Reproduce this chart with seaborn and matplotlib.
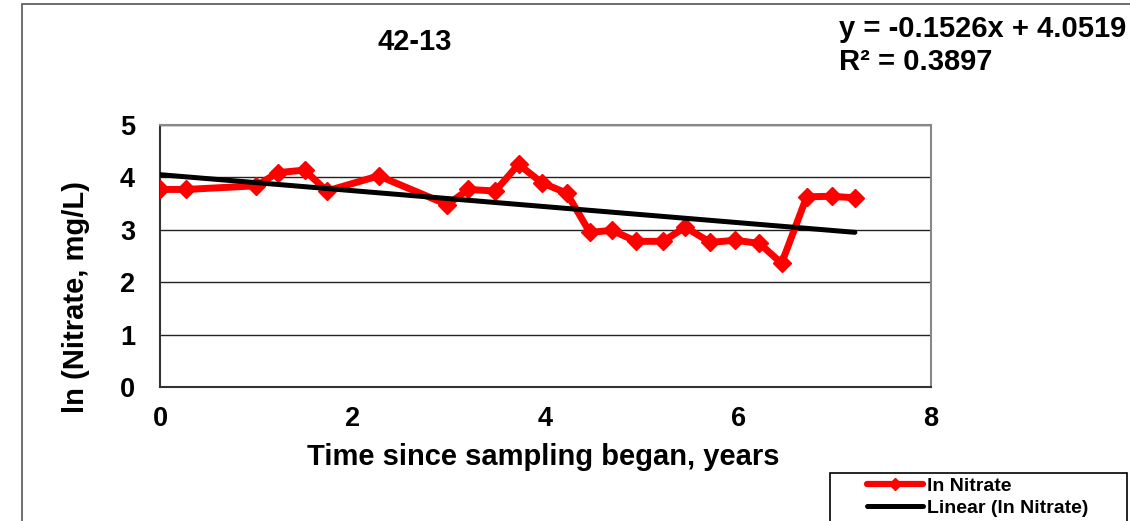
import matplotlib
matplotlib.use("Agg")
import matplotlib.pyplot as plt
import seaborn as sns
import pandas as pd
from matplotlib.patches import Rectangle
from matplotlib.lines import Line2D

# ---- data ----
time_years = [0, 0.27, 1.0, 1.22, 1.5, 1.73, 2.27, 2.98, 3.2, 3.48, 3.72, 3.96,
              4.22, 4.46, 4.69, 4.94, 5.22, 5.45, 5.71, 5.97, 6.22, 6.45, 6.71, 6.97, 7.21]
ln_nitrate = [3.77, 3.77, 3.84, 4.09, 4.14, 3.74, 4.03, 3.48, 3.77, 3.74, 4.25, 3.90,
              3.70, 2.95, 2.99, 2.78, 2.78, 3.05, 2.76, 2.80, 2.74, 2.36, 3.63, 3.64, 3.61]
slope = -0.1526
intercept = 4.0519
r_squared = 0.3897
title = "42-13"
x_ticks = [0, 2, 4, 6, 8]
y_ticks = [0, 1, 2, 3, 4, 5]
series_labels = ["ln Nitrate", "Linear (ln Nitrate)"]

df = pd.DataFrame({"t": time_years, "v": ln_nitrate})
trend_x = [min(time_years), max(time_years)]
trend_df = pd.DataFrame({"t": trend_x, "v": [slope * x + intercept for x in trend_x]})

sns.set_style("white")
plt.rcParams["font.family"] = ["Liberation Sans", "DejaVu Sans"]
plt.rcParams["font.weight"] = "bold"
for k in ["text.color", "axes.labelcolor", "xtick.labelcolor", "ytick.labelcolor"]:
    plt.rcParams[k] = "black"

W, H = 1130, 521
fig = plt.figure(figsize=(W / 100, H / 100), dpi=100)
ax = fig.add_axes([160 / W, 1 - 387 / H, (931 - 160) / W, (387 - 125) / H])

# outer chart border
fig.patches.append(Rectangle((22 / W, -0.05), 1.2, 1 - 4 / H + 0.05,
                             transform=fig.transFigure, fill=False,
                             edgecolor="#555555", linewidth=1.2))

sns.lineplot(data=df, x="t", y="v", ax=ax, color="#ff0000", linewidth=5,
             marker="D", markersize=9, markeredgecolor="#ff0000",
             markeredgewidth=1, zorder=3)
sns.lineplot(data=trend_df, x="t", y="v", ax=ax, color="black", linewidth=3.6,
             zorder=4, solid_capstyle="round")

ax.set_xlim(0, 8)
ax.set_ylim(0, 5)
ax.set_xticks(x_ticks)
ax.set_yticks(y_ticks)
ax.yaxis.grid(True, color="#222222", linewidth=1.0)
ax.set_axisbelow(True)
for side in ["top", "right"]:
    ax.spines[side].set_color("#888888")
    ax.spines[side].set_linewidth(1.5)
for side in ["left", "bottom"]:
    ax.spines[side].set_color("#333333")
    ax.spines[side].set_linewidth(1.5)
ax.tick_params(axis="both", which="both", direction="out", length=8,
               width=1, color="#444444", labelsize=19.5, pad=6)
ax.tick_params(axis="y", pad=10)
for lbl in ax.get_xticklabels() + ax.get_yticklabels():
    lbl.set_fontweight("bold")

ax.set_xlabel("Time since sampling began, years", fontsize=21, fontweight="bold")
ax.set_ylabel("ln (Nitrate, mg/L)", fontsize=21, fontweight="bold")
ax.xaxis.set_label_coords((543 - 160) / 771, (387 - 443) / 262)
ax.xaxis.label.set_va("top")
ax.yaxis.set_label_coords((90 - 160) / 771, (387 - 297) / 262)

fig.text(415 / W, 1 - 42 / H, title, ha="center", va="center",
         fontsize=21, fontweight="bold")
fig.text(839 / W, 1 - 37 / H, f"y = {slope}x + {intercept}", ha="left",
         va="baseline", fontsize=21, fontweight="bold")
fig.text(839 / W, 1 - 70 / H, f"R² = {r_squared}", ha="left",
         va="baseline", fontsize=21, fontweight="bold")

# legend box (extends past the bottom edge as in the reference)
fig.patches.append(Rectangle((830 / W, -0.05), (1127 - 830) / W, (521 - 473) / H + 0.05,
                             transform=fig.transFigure, fill=False,
                             edgecolor="black", linewidth=1.2))
handles = [Line2D([0, 1, 2], [0, 0, 0], color="#ff0000", linewidth=4.5, marker="D",
                  markersize=6, markevery=[1]),
           Line2D([], [], color="black", linewidth=3.6)]
leg = fig.legend(handles, series_labels,
                 loc="upper left", bbox_to_anchor=(864 / W, 1 - 474 / H),
                 frameon=False, prop={"weight": "bold", "size": 14},
                 handlelength=2.9, handletextpad=0.2, borderpad=0.15,
                 labelspacing=0.25, borderaxespad=0)

fig.savefig("out.png", dpi=100, facecolor="white")
